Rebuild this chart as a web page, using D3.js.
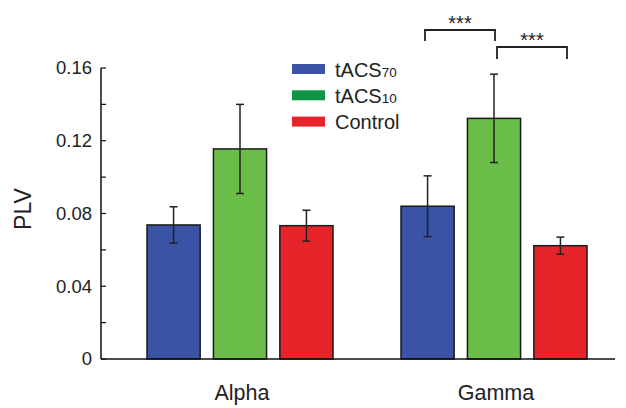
<!DOCTYPE html>
<html><head><meta charset="utf-8">
<script src="https://cdn.jsdelivr.net/npm/d3@7"></script>
<style>body{margin:0;background:#fff}svg{display:block}text{font-family:Arial,"Liberation Sans",sans-serif}</style>
</head><body><svg id="c" width="626" height="408"></svg>
<script>
const bands = ["Alpha", "Gamma"];
const seriesNames = ["tACS70", "tACS10", "Control"];
const tacs70 = [0.0737, 0.0840];
const tacs10 = [0.1155, 0.1323];
const control = [0.0733, 0.0623];
const err70 = [0.0100, 0.0167];
const err10 = [0.0245, 0.0243];
const errCtl = [0.0085, 0.0047];
const yTicks = [0, 0.04, 0.08, 0.12, 0.16];
const yMinor = [0.02, 0.06, 0.10, 0.14];
const barColors = ["#3a53a4", "#6bbd4a", "#e62429"];
const legendColors = ["#3a53a4", "#0f9448", "#e62429"];

const svg = d3.select("#c");
const x0 = 101, x1 = 615, yBase = 359, yTop = 68;
const y = d3.scaleLinear().domain([0, 0.16]).range([yBase, yTop]);
const xb = d3.scalePoint().domain(bands).range([147, 401]);
const xs = d3.scaleBand().domain(seriesNames).range([0, 186]).paddingInner(0.2).paddingOuter(0);

const vals = [tacs70, tacs10, control];
const errs = [err70, err10, errCtl];

const data = [];
bands.forEach((b, bi) => seriesNames.forEach((s, si) => {
  data.push({b, s, si, v: vals[si][bi], e: errs[si][bi]});
}));
const gx = d => xb(d.b) + xs(d.s);
const bw = xs.bandwidth();

svg.selectAll("rect.bar").data(data).enter().append("rect")
  .attr("x", gx).attr("width", bw)
  .attr("y", d => y(d.v)).attr("height", d => yBase - y(d.v))
  .attr("fill", d => barColors[d.si]).attr("stroke", "#1a1a1a").attr("stroke-width", 1.5);

const eg = svg.selectAll("g.err").data(data).enter().append("g")
  .attr("stroke", "#222").attr("stroke-width", 1.5);
eg.append("line").attr("x1", d => gx(d) + bw/2).attr("x2", d => gx(d) + bw/2)
  .attr("y1", d => y(d.v + d.e)).attr("y2", d => y(d.v - d.e));
eg.append("line").attr("x1", d => gx(d) + bw/2 - 4).attr("x2", d => gx(d) + bw/2 + 4)
  .attr("y1", d => y(d.v + d.e)).attr("y2", d => y(d.v + d.e));
eg.append("line").attr("x1", d => gx(d) + bw/2 - 4).attr("x2", d => gx(d) + bw/2 + 4)
  .attr("y1", d => y(d.v - d.e)).attr("y2", d => y(d.v - d.e));

// axes
svg.append("line").attr("x1", x0).attr("x2", x0).attr("y1", yTop).attr("y2", yBase).attr("stroke", "#111").attr("stroke-width", 1.5);
svg.append("line").attr("x1", x0).attr("x2", x1).attr("y1", yBase).attr("y2", yBase).attr("stroke", "#111").attr("stroke-width", 1.5);
svg.selectAll("line.tk").data(yTicks.concat(yMinor)).enter().append("line")
  .attr("x1", x0).attr("x2", x0 + 5).attr("y1", d => y(d)).attr("y2", d => y(d)).attr("stroke", "#111").attr("stroke-width", 1.2);
svg.selectAll("text.tl").data(yTicks).enter().append("text")
  .attr("x", 92).attr("y", d => y(d)).attr("dy", "0.35em").attr("text-anchor", "end")
  .attr("font-size", 18.5).attr("fill", "#222").text(d => d === 0 ? "0" : d3.format(".2f")(d));
svg.append("text").attr("transform", `translate(31,209) rotate(-90)`)
  .attr("text-anchor", "middle").attr("font-size", 23).attr("fill", "#222").text("PLV");
svg.selectAll("text.xl").data(bands).enter().append("text")
  .attr("x", d => xb(d) + 95).attr("y", 400)
  .attr("text-anchor", "middle").attr("font-size", 21.5).attr("fill", "#222").text(d => d);

// legend
const lg = svg.append("g");
seriesNames.forEach((s, i) => {
  const yy = 64 + i * 26.3;
  lg.append("rect").attr("x", 292).attr("y", yy).attr("width", 33).attr("height", 10).attr("fill", legendColors[i]);
  const t = lg.append("text").attr("x", 335).attr("y", yy + 12.5).attr("font-size", 20).attr("fill", "#222");
  if (i < 2) {
    t.append("tspan").text("tACS");
    t.append("tspan").attr("font-size", 13.5).text(s.slice(4));
  } else t.text(s);
});

// significance brackets
const sig = [[425, 495, 30, 41], [497, 567, 47, 59]];
sig.forEach(([a, b, t, bt]) => {
  svg.append("path").attr("d", `M${a},${bt}V${t}H${b}V${bt}`).attr("fill", "none").attr("stroke", "#222").attr("stroke-width", 1.8);
  svg.append("text").attr("x", (a + b)/2).attr("y", t).attr("text-anchor", "middle").attr("font-size", 20).attr("fill", "#222").text("***");
});
</script></body></html>
